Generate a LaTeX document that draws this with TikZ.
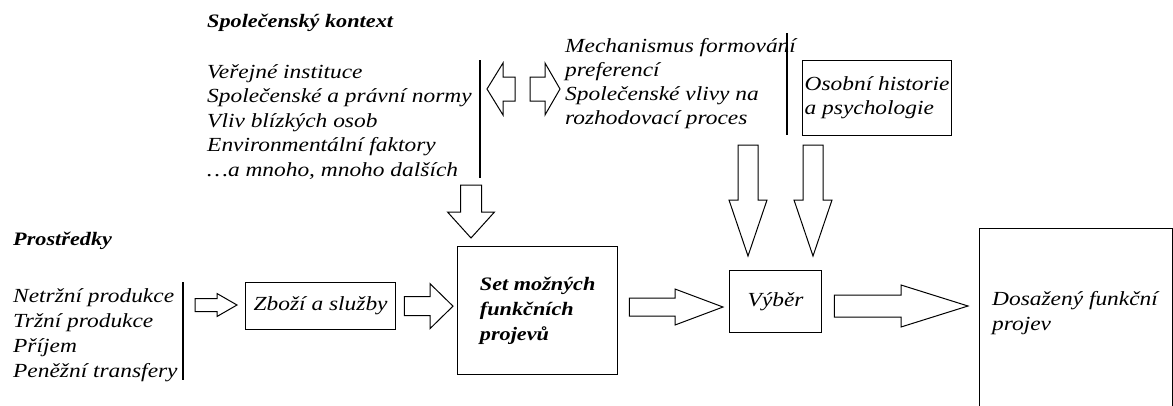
\documentclass[tikz,border=0pt]{standalone}
\usepackage{fontspec}
\setmainfont{Liberation Serif}[FakeStretch=1.17]
\usetikzlibrary{calc,positioning}

\tikzset{
  lbl/.style={anchor=base west,inner sep=0pt,align=left,font=\itshape\fontsize{20}{25}\selectfont},
  ttl/.style={anchor=base west,inner sep=0pt,font=\bfseries\itshape\fontsize{19}{24}\selectfont},
  box/.style={draw,line width=1.3pt,align=left,font=\itshape\fontsize{20}{25}\selectfont},
  sep/.style={line width=1.2pt},
  hollow/.style={draw,line width=1pt,fill=white,line join=miter}
}
% tail, tip, shaft half width, head half width, head length
\newcommand{\blockarrow}[5]{%
  \coordinate (ba) at ($(#2)!#5!(#1)$);
  \draw[hollow] ($(#1)!#3!90:(#2)$) -- ($(ba)!#3!-90:(#1)$) -- ($(ba)!#4!-90:(#1)$) -- (#2)
    -- ($(ba)!#4!90:(#1)$) -- ($(ba)!#3!90:(#1)$) -- ($(#1)!#3!-90:(#2)$) -- cycle;}

\begin{document}
\begin{tikzpicture}[x=1pt,y=-1pt]
\useasboundingbox (0,0) rectangle (1173,405);

% social context (multi-line labels sit on their last baseline)
\node[ttl] (ctxttl) at (207,27) {Společenský kontext};
\node[lbl,font=\itshape\fontsize{20}{24.5}\selectfont] (ctx) at (207,176) {Veřejné instituce\\Společenské a právní normy\\Vliv blízkých osob\\Environmentální faktory\\…a mnoho, mnoho dalších};
\draw[sep] (480,60) -- (480,178);
\node[lbl,font=\itshape\fontsize{20}{24}\selectfont] (mech) at (565,124) {Mechanismus formování\\preferencí\\Společenské vlivy na\\rozhodovací proces};
\draw[sep] (787,33) -- (787,135);
\node[box,anchor=north west,minimum width=145pt,minimum height=75pt,inner xsep=2pt,font=\itshape\fontsize{20}{24}\selectfont] (osobni) at (802,60) {Osobní historie\\a psychologie};

% means
\node[ttl] (prosttl) at (13,245) {Prostředky};
\node[lbl] (prost) at (13,377) {Netržní produkce\\Tržní produkce\\Příjem\\Peněžní transfery};
\draw[sep] (183,282) -- (183,380);

% main chain
\node[box,anchor=north west,minimum width=150pt,minimum height=47pt,align=center] (zbozi) at (245,282) {Zboží a služby};
\node[box,anchor=north west,minimum width=160pt,minimum height=128pt,font=\bfseries\itshape\fontsize{19}{25}\selectfont] (set) at (457,246) {Set možných\\funkčních\\projevů};
\node[box,anchor=north west,minimum width=92pt,minimum height=62pt,align=center] (vyber) at (729,270) {Výběr};
\node[box,anchor=north west,minimum width=193pt,minimum height=182pt] (dos) at (979,228) {};
\node[lbl] (dostxt) at (992,330) {Dosažený funkční\\projev};

% block arrows
\coordinate (l1) at (515,89);
\coordinate (l2) at (487,89);
\blockarrow{l1}{l2}{12pt}{26pt}{16pt}
\coordinate (r1) at (530,89);
\coordinate (r2) at (560,89);
\blockarrow{r1}{r2}{12pt}{26pt}{15pt}

\coordinate (c1) at (471,185);
\coordinate (c2) at ([yshift=8pt]set.north -| c1);
\blockarrow{c1}{c2}{10.5pt}{23.5pt}{26pt}

\coordinate (m1) at (748,145);
\coordinate (m2) at ([yshift=14pt]vyber.north -| m1);
\blockarrow{m1}{m2}{10pt}{19pt}{56pt}
\coordinate (o1) at (813,145);
\coordinate (o2) at ([yshift=14pt]vyber.north -| o1);
\blockarrow{o1}{o2}{10pt}{19pt}{56pt}

\coordinate (p1) at (195,305);
\coordinate (p2) at ([xshift=-8pt]p1 -| zbozi.west);
\blockarrow{p1}{p2}{6.5pt}{11.5pt}{20pt}

\coordinate (z1) at ([xshift=8pt]zbozi.east);
\coordinate (z2) at ([xshift=-4pt]z1 -| set.west);
\blockarrow{z1}{z2}{9.5pt}{22.5pt}{23pt}

\coordinate (s1) at ([xshift=11pt]set.east |- 0,307);
\coordinate (s2) at ([xshift=-6pt]s1 -| vyber.west);
\blockarrow{s1}{s2}{9pt}{18pt}{48pt}

\coordinate (v1) at ([xshift=12pt]vyber.east |- 0,306);
\coordinate (v2) at ([xshift=-11pt]v1 -| dos.west);
\blockarrow{v1}{v2}{11pt}{21pt}{67pt}
\end{tikzpicture}
\end{document}
